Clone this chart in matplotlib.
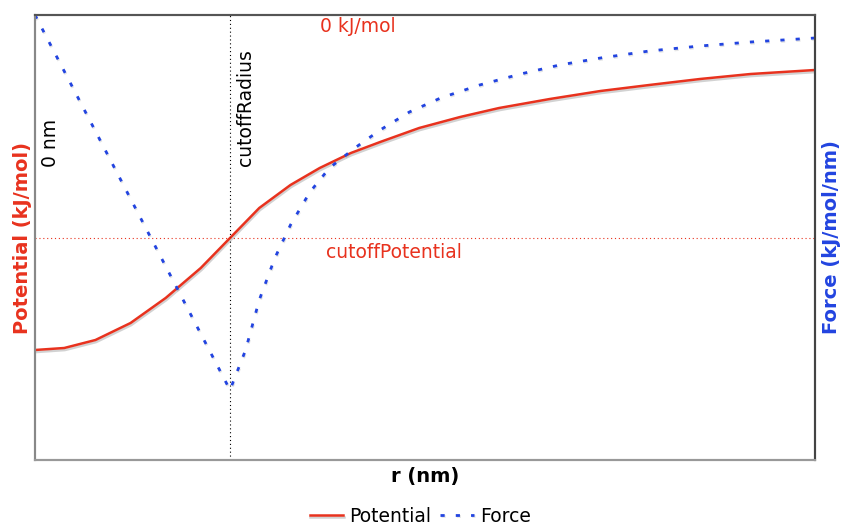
import matplotlib.pyplot as plt
import matplotlib.patheffects as pe
import numpy as np

# r in nm, cutoff at 1 nm
r_pot = [0.0, 0.15, 0.31, 0.49, 0.67, 0.85, 1.0, 1.15, 1.31, 1.46, 1.62, 1.77,
         1.97, 2.18, 2.38, 2.64, 2.9, 3.15, 3.41, 3.67, 4.0]
potential = [-3.35, -3.33, -3.25, -3.08, -2.83, -2.53, -2.23, -1.93, -1.70, -1.53,
             -1.38, -1.27, -1.13, -1.02, -0.93, -0.84, -0.76, -0.70, -0.64, -0.59, -0.55]

r_force = [0.0, 1.0, 1.08, 1.15, 1.23, 1.31, 1.41, 1.51, 1.64, 1.77, 1.92, 2.08,
           2.28, 2.49, 2.69, 2.9, 3.15, 3.41, 3.67, 4.0]
force = [0.0, -3.75, -3.35, -2.85, -2.43, -2.10, -1.77, -1.53, -1.33, -1.15, -0.97,
         -0.83, -0.70, -0.59, -0.50, -0.43, -0.36, -0.31, -0.27, -0.23]

cutoff_radius = 1.0
cutoff_potential = -2.23

red = '#e8321e'
blue = '#2244e0'

fig = plt.figure(figsize=(8.42, 5.25), dpi=100)
ax = fig.add_axes([35/842, 65/525, 780/842, 445/525])
ax2 = ax.twinx()

shadow = [pe.SimpleLineShadow(offset=(0.5, -1.5), shadow_color='gray', alpha=0.35), pe.Normal()]
shadow_f = [pe.SimpleLineShadow(offset=(0.5, -1.0), shadow_color='gray', alpha=0.2), pe.Normal()]

lp, = ax.plot(r_pot, potential, color=red, lw=1.8, path_effects=shadow, label='Potential')
lf, = ax2.plot(r_force, force, color=blue, lw=2, linestyle=(0, (1.5, 4)),
               path_effects=shadow_f, label='Force')

ax.axvline(cutoff_radius, color='black', lw=0.8, linestyle=(0, (1, 2.5)))
ax.axhline(cutoff_potential, color=red, lw=0.8, linestyle=(0, (1, 2.5)))

ax.set_xlim(0, 4)
ax.set_ylim(-4.45, 0)
ax2.set_ylim(-4.45, 0)
for a in (ax, ax2):
    a.set_xticks([])
    a.set_yticks([])
    a.spines['left'].set_color('#888888')
    a.spines['bottom'].set_color('#999999')
    a.spines['top'].set_color('#555555')
    a.spines['right'].set_color('#444444')
    for s in a.spines.values():
        s.set_linewidth(1.5)

ax.set_ylabel('Potential (kJ/mol)', color=red, fontsize=14, fontweight='bold', labelpad=2)
ax2.set_ylabel('Force (kJ/mol/nm)', color=blue, fontsize=14, fontweight='bold', labelpad=5)
ax.set_xlabel('r (nm)', fontsize=14, fontweight='bold', labelpad=5)

ax.text(1.46, -0.12, '0 kJ/mol', color=red, fontsize=13.5, va='center')
ax.text(1.49, cutoff_potential - 0.14, 'cutoffPotential', color=red, fontsize=13.5, va='center')
ax.text(0.03, -1.28, '0 nm', rotation=90, fontsize=13.5, va='center', ha='left')
ax.text(1.03, -0.93, 'cutoffRadius', rotation=90, fontsize=13.5, va='center', ha='left')

fig.legend(handles=[lp, lf], loc='center', bbox_to_anchor=(420/842, 1 - 516/525),
           ncol=2, frameon=False, fontsize=13.5, handlelength=1.8, columnspacing=0.5,
           handletextpad=0.3)

fig.savefig('out.png', dpi=100)
